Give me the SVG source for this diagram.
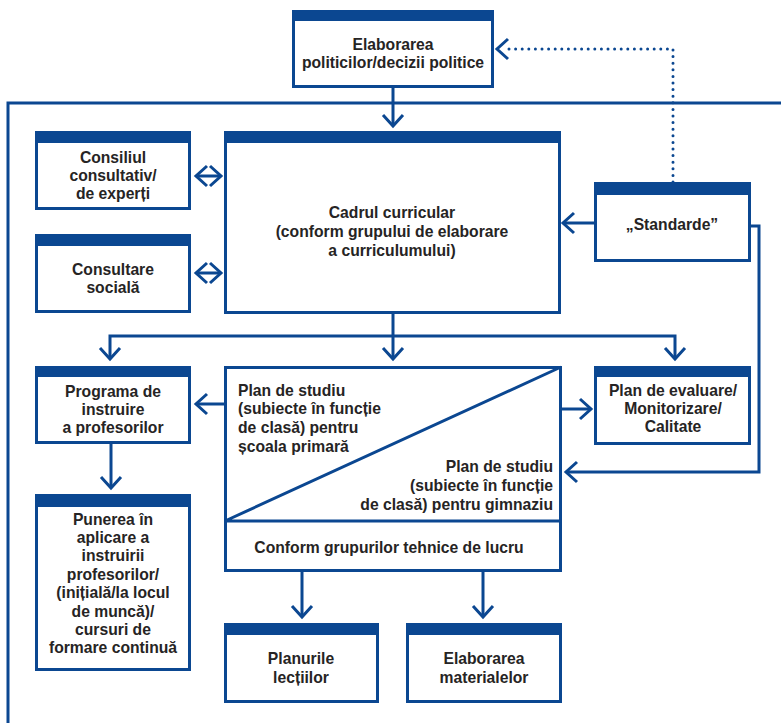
<svg xmlns="http://www.w3.org/2000/svg" width="781" height="723" viewBox="0 0 781 723">
  <style>
    .box { fill: #ffffff; stroke: #0b4791; stroke-width: 3; }
    .hdr { fill: #0b4791; }
    .ln { fill: none; stroke: #0b4791; stroke-width: 3; }
    .dot { fill: none; stroke: #0b4791; stroke-width: 3; stroke-linecap: round; stroke-dasharray: 0 6.6; }
    text { font-family: "Liberation Sans", Arial, sans-serif; font-weight: bold; font-size: 15.7px; fill: #262424; }
    .c { text-anchor: middle; }
    .r { text-anchor: end; }
  </style>
  <defs>
    <marker id="arr" viewBox="-15 -13 18 26" refX="0" refY="0" markerWidth="18" markerHeight="26" markerUnits="userSpaceOnUse" orient="auto-start-reverse">
      <path d="M-11,-10 L0,0 L-11,10" fill="none" stroke="#0b4791" stroke-width="3"/>
    </marker>
  </defs>

  <rect width="781" height="723" fill="#ffffff"/>

  <!-- connectors -->
  <g id="connectors">
    <!-- outer bracket -->
    <path class="ln" d="M8,723 V103 H781"/>
    <!-- policy to curriculum frame -->
    <path class="ln" d="M393,88 V126" marker-end="url(#arr)"/>
    <!-- standards feedback (dotted) -->
    <path class="dot" d="M673,182 V49 H505"/>
    <path d="M508,39 L497,49 L508,59" fill="none" stroke="#0b4791" stroke-width="3"/>
    <!-- consultation double arrows -->
    <path class="ln" d="M196,176 H221" marker-start="url(#arr)" marker-end="url(#arr)"/>
    <path class="ln" d="M196,273 H221" marker-start="url(#arr)" marker-end="url(#arr)"/>
    <!-- standards to curriculum frame -->
    <path class="ln" d="M594,223 H563" marker-end="url(#arr)"/>
    <!-- standards to lower secondary plan -->
    <path class="ln" d="M751,226 H759 V472 H566" marker-end="url(#arr)"/>
    <!-- curriculum frame distribution -->
    <path class="ln" d="M393,314 V359" marker-end="url(#arr)"/>
    <path class="ln" d="M110,359 V336 H675 V359" marker-start="url(#arr)" marker-end="url(#arr)"/>
    <!-- study plan sideways -->
    <path class="ln" d="M224,404 H196" marker-end="url(#arr)"/>
    <path class="ln" d="M562,409 H591" marker-end="url(#arr)"/>
    <!-- teacher training -->
    <path class="ln" d="M111,444 V488" marker-end="url(#arr)"/>
    <!-- working groups outputs -->
    <path class="ln" d="M302,572 V617" marker-end="url(#arr)"/>
    <path class="ln" d="M483,572 V617" marker-end="url(#arr)"/>
  </g>

  <g id="policy">
    <rect class="box" x="293.5" y="11.5" width="199" height="75"/>
    <rect class="hdr" x="292" y="10" width="202" height="11"/>
    <text class="c" x="393" y="50">Elaborarea</text>
    <text class="c" x="393" y="68">politicilor/decizii politice</text>
  </g>

  <g id="advisory">
    <rect class="box" x="36.5" y="132.5" width="153" height="76"/>
    <rect class="hdr" x="35" y="131" width="156" height="12"/>
    <text class="c" x="113" y="163">Consiliul</text>
    <text class="c" x="113" y="181">consultativ/</text>
    <text class="c" x="113" y="199">de experți</text>
  </g>

  <g id="social">
    <rect class="box" x="36.5" y="235.5" width="153" height="76"/>
    <rect class="hdr" x="35" y="234" width="156" height="12"/>
    <text class="c" x="113" y="275">Consultare</text>
    <text class="c" x="113" y="293">socială</text>
  </g>

  <g id="framework">
    <rect class="box" x="225.5" y="132.5" width="334" height="180"/>
    <rect class="hdr" x="224" y="131" width="337" height="12"/>
    <text class="c" x="392" y="218">Cadrul curricular</text>
    <text class="c" x="392" y="237">(conform grupului de elaborare</text>
    <text class="c" x="392" y="256">a curriculumului)</text>
  </g>

  <g id="standards">
    <rect class="box" x="595.5" y="183.5" width="154" height="77"/>
    <rect class="hdr" x="594" y="182" width="157" height="13"/>
    <text class="c" x="672" y="230">„Standarde”</text>
  </g>

  <g id="training">
    <rect class="box" x="36.5" y="367.5" width="153" height="75"/>
    <rect class="hdr" x="35" y="366" width="156" height="11"/>
    <text class="c" x="113" y="397">Programa de</text>
    <text class="c" x="113" y="415">instruire</text>
    <text class="c" x="113" y="433">a profesorilor</text>
  </g>

  <g id="studyplan">
    <rect class="box" x="225.5" y="367.5" width="335" height="203"/>
    <path class="ln" d="M225,521 H561 M225,521 L561,367"/>
    <text x="238" y="396">Plan de studiu</text>
    <text x="238" y="414">(subiecte în funcție</text>
    <text x="238" y="433">de clasă) pentru</text>
    <text x="238" y="452">școala primară</text>
    <text class="r" x="553" y="472">Plan de studiu</text>
    <text class="r" x="553" y="491">(subiecte în funcție</text>
    <text class="r" x="553" y="510">de clasă) pentru gimnaziu</text>
    <text class="c" x="389" y="553">Conform grupurilor tehnice de lucru</text>
  </g>

  <g id="evaluation">
    <rect class="box" x="595.5" y="367.5" width="154" height="76"/>
    <rect class="hdr" x="594" y="366" width="157" height="11"/>
    <text class="c" x="673" y="396">Plan de evaluare/</text>
    <text class="c" x="673" y="414">Monitorizare/</text>
    <text class="c" x="673" y="432">Calitate</text>
  </g>

  <g id="implementation">
    <rect class="box" x="36.5" y="495.5" width="153" height="174"/>
    <rect class="hdr" x="35" y="494" width="156" height="13"/>
    <text class="c" x="113" y="525">Punerea în</text>
    <text class="c" x="113" y="543">aplicare a</text>
    <text class="c" x="113" y="561">instruirii</text>
    <text class="c" x="113" y="580">profesorilor/</text>
    <text class="c" x="113" y="598">(inițială/la locul</text>
    <text class="c" x="113" y="617">de muncă)/</text>
    <text class="c" x="113" y="635">cursuri de</text>
    <text class="c" x="113" y="653">formare continuă</text>
  </g>

  <g id="lessons">
    <rect class="box" x="225.5" y="624.5" width="152" height="77"/>
    <rect class="hdr" x="224" y="623" width="155" height="12"/>
    <text class="c" x="301" y="664">Planurile</text>
    <text class="c" x="301" y="683">lecțiilor</text>
  </g>

  <g id="materials">
    <rect class="box" x="407.5" y="624.5" width="153" height="77"/>
    <rect class="hdr" x="406" y="623" width="156" height="12"/>
    <text class="c" x="484" y="664">Elaborarea</text>
    <text class="c" x="484" y="683">materialelor</text>
  </g>
</svg>
